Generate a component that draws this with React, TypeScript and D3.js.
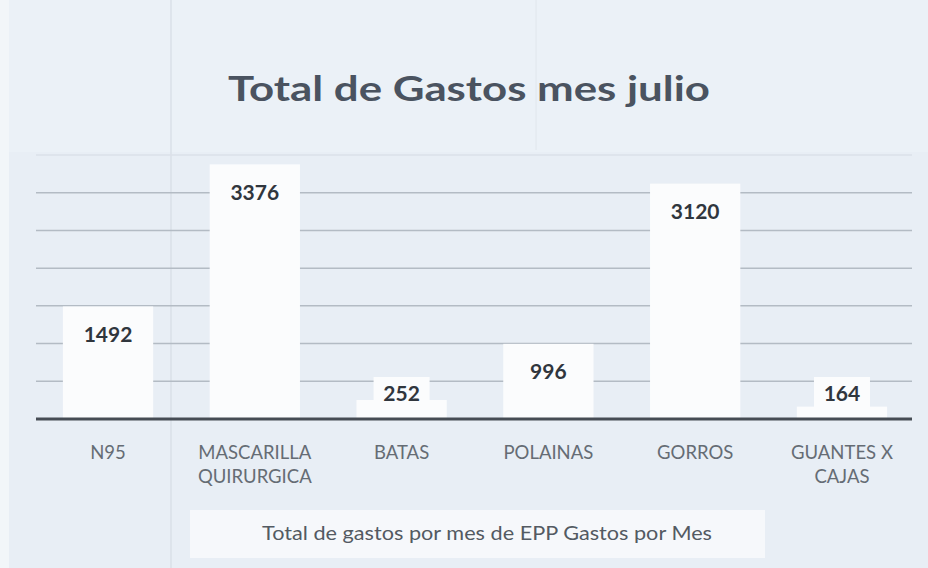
import React from "react";
import * as d3 from "d3";

const categories: string[][] = [
  ["N95"],
  ["MASCARILLA", "QUIRURGICA"],
  ["BATAS"],
  ["POLAINAS"],
  ["GORROS"],
  ["GUANTES X", "CAJAS"],
];
const values: number[] = [1492, 3376, 252, 996, 3120, 164];
const yTicks: number[] = [500, 1000, 1500, 2000, 2500, 3000, 3500];
const title = "Total de Gastos mes julio";
const axisTitle = "Total de gastos por mes de EPP Gastos por Mes";

const W = 928;
const H = 568;
const FONT = "Lato, 'Open Sans', sans-serif";

export default function App() {
  const ids = categories.map((_, i) => String(i));
  const x = d3.scaleBand<string>().domain(ids).range([35, 915]).paddingInner(0.385).paddingOuter(0.19);
  const y = d3.scaleLinear().domain([0, 3500]).range([419, 155]);
  const bw = x.bandwidth();

  return (
    <svg width={W} height={H} style={{ position: "absolute", left: 0, top: 0 }} fontFamily={FONT}>
      <rect x={0} y={0} width={W} height={H} fill="#e8eef5" />
      <rect x={0} y={0} width={W} height={152} fill="#ebf1f7" />
      <rect x={0} y={0} width={9} height={H} fill="#f2f6f9" />
      <line x1={171} x2={171} y1={0} y2={H} stroke="#d6dde5" strokeWidth={1.2} />
      <line x1={536} x2={536} y1={0} y2={150} stroke="#e0e6ec" strokeWidth={1} />

      <text
        x={469}
        y={101}
        textAnchor="middle"
        fontSize={34}
        fontWeight={700}
        fill="#4a5360"
        textLength={482}
        lengthAdjust="spacingAndGlyphs"
      >
        {title}
      </text>

      {yTicks.map((t) => (
        <line
          key={t}
          x1={36}
          x2={912}
          y1={y(t)}
          y2={y(t)}
          stroke={t === 3500 ? "#dbe1e8" : "#b3bbc4"}
          strokeWidth={1.5}
        />
      ))}

      {values.map((v, i) => (
        <rect key={"b" + i} x={x(ids[i])!} y={y(v)} width={bw} height={y(0) - y(v)} fill="#fbfcfd" />
      ))}

      <line x1={36} x2={912} y1={y(0)} y2={y(0)} stroke="#464c54" strokeWidth={3} />

      {values.map((v, i) => {
        const cx = x(ids[i])! + bw / 2;
        const cy = Math.min(y(v) + 28, y(0) - 25);
        return (
          <g key={"l" + i}>
            <rect x={cx - 28} y={cy - 17} width={56} height={34} fill="#fbfcfd" />
            <text x={cx} y={cy} dy="0.35em" textAnchor="middle" fontSize={21} fontWeight={700} fill="#30363d">
              {v}
            </text>
          </g>
        );
      })}

      {categories.map((lines, i) => {
        const cx = x(ids[i])! + bw / 2;
        return (
          <text key={"c" + i} x={cx} textAnchor="middle" fontSize={18.5} fill="#656c74">
            {lines.map((ln, j) => (
              <tspan key={j} x={cx} y={459 + j * 24}>
                {ln}
              </tspan>
            ))}
          </text>
        );
      })}

      <rect x={190} y={510} width={575} height={48} fill="#f6f8fb" />
      <text
        x={487}
        y={540}
        textAnchor="middle"
        fontSize={20}
        fill="#535a62"
        textLength={450}
        lengthAdjust="spacingAndGlyphs"
      >
        {axisTitle}
      </text>
    </svg>
  );
}
